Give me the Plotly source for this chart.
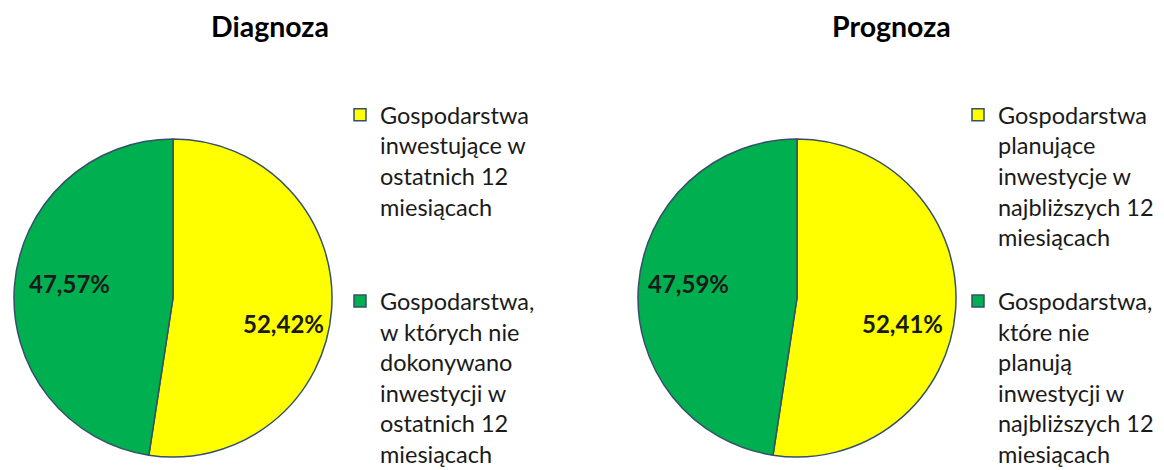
import plotly.graph_objects as go

# Data
titles = ["Diagnoza", "Prognoza"]
diag_labels = [
    "Gospodarstwa<br>inwestujące w<br>ostatnich 12<br>miesiącach",
    "Gospodarstwa,<br>w których nie<br>dokonywano<br>inwestycji w<br>ostatnich 12<br>miesiącach",
]
diag_values = [52.42, 47.57]
prog_labels = [
    "Gospodarstwa<br>planujące<br>inwestycje w<br>najbliższych 12<br>miesiącach",
    "Gospodarstwa,<br>które nie<br>planują<br>inwestycji w<br>najbliższych 12<br>miesiącach",
]
prog_values = [52.41, 47.59]
colors = ["#FFFF00", "#00B050"]

FONT = "Lato"
H = 470
W = 1164
R = 159  # half size of pie domain in px

def fmt(v):
    return f"{v:.2f}".replace(".", ",") + "%"

def pad(labels, extra):
    out = list(labels)
    out[0] = out[0] + "<br>\u00a0" * extra
    return out

def dom(cx, cy):
    return dict(x=[(cx - R) / W, (cx + R) / W], y=[(H - cy - R) / H, (H - cy + R) / H])

fig = go.Figure()
fig.add_trace(go.Pie(
    labels=pad(diag_labels, 2), values=diag_values, sort=False, direction="clockwise",
    marker=dict(colors=colors, line=dict(color="#34506A", width=1.5)),
    textinfo="none", hoverinfo="label+value",
    domain=dom(165, 290), legend="legend",
))
fig.add_trace(go.Pie(
    labels=pad(prog_labels, 1), values=prog_values, sort=False, direction="clockwise",
    marker=dict(colors=colors, line=dict(color="#34506A", width=1.5)),
    textinfo="none", hoverinfo="label+value",
    domain=dom(789, 290), legend="legend2",
))

annots = []
for t, x in zip(titles, [262, 883]):
    annots.append(dict(text=f"<b>{t}</b>", x=x / W, y=1 - 18 / H, xref="paper", yref="paper",
                       xanchor="center", yanchor="middle", showarrow=False,
                       font=dict(family=FONT, size=28.5, color="#000000")))
label_pos = [
    (275, 315, diag_values[0]), (61, 275, diag_values[1]),
    (894, 315, prog_values[0]), (680, 275, prog_values[1]),
]
for x, y, v in label_pos:
    annots.append(dict(text=f"<b>{fmt(v)}</b>", x=x / W, y=1 - y / H, xref="paper", yref="paper",
                       xanchor="center", yanchor="middle", showarrow=False,
                       font=dict(family=FONT, size=24, color="#1a1a1a")))

legend_common = dict(
    font=dict(family=FONT, size=23.5, color="#1a1a1a"),
    valign="top", yanchor="top", xanchor="left", bgcolor="rgba(0,0,0,0)",
    itemclick=False, itemdoubleclick=False,
)

fig.update_layout(
    width=W, height=H,
    margin=dict(l=0, r=0, t=0, b=0, autoexpand=False),
    paper_bgcolor="white", plot_bgcolor="white",
    annotations=annots,
    legend=dict(x=332 / W, y=1 - 85 / H, **legend_common),
    legend2=dict(x=950 / W, y=1 - 85 / H, **legend_common),
    showlegend=True,
)

fig.write_html("out.html")
